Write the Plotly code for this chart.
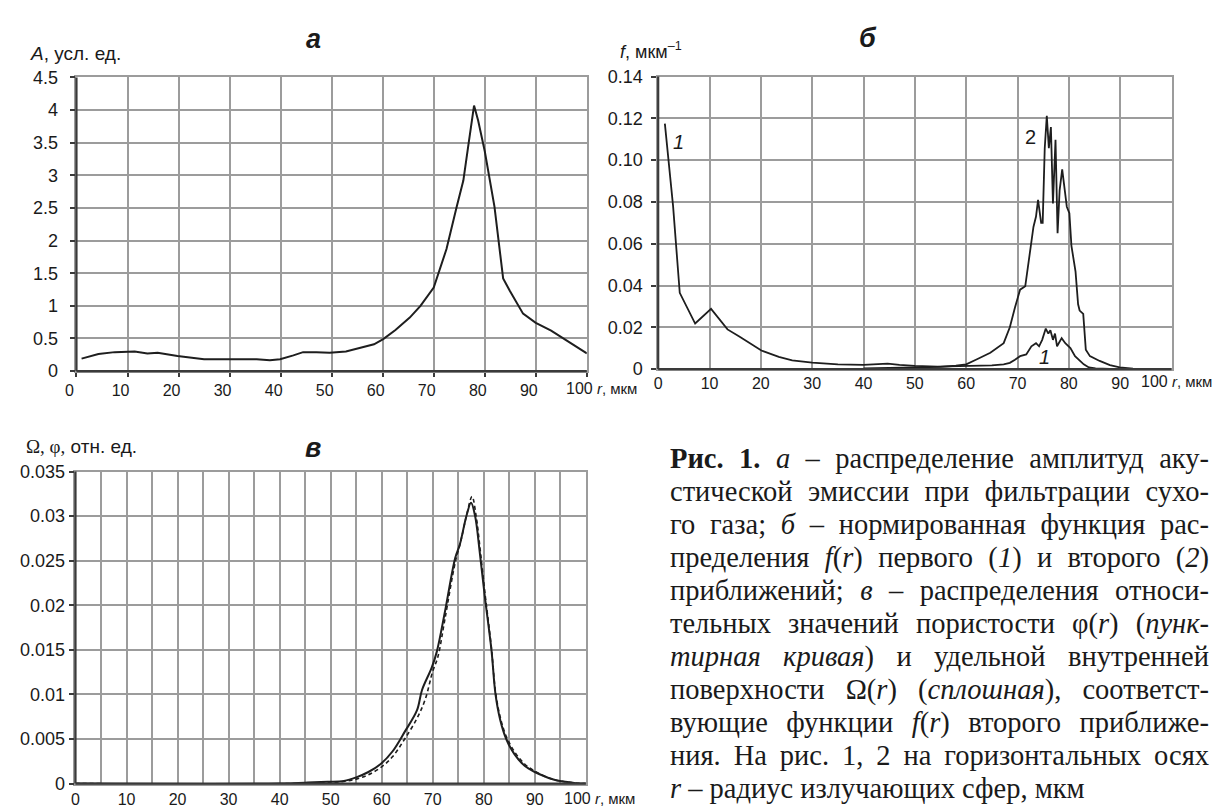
import plotly.graph_objects as go

W, H = 1222, 809

# ---------------- data ----------------
# panel a: amplitude distribution
r_a = [1, 4.3, 7.5, 10, 11.4, 13.9, 15.9, 19.8, 25, 30, 35.3, 37.9, 39.9, 42.5, 44.4, 47, 49.6,
       52.8, 56, 58.3, 60.1, 62.5, 65.3, 67.4, 70, 72.5, 74.5, 75.8, 76.8, 77.9, 78.7, 80, 81.9,
       83.6, 84.9, 87.5, 90, 93, 96, 100]
A_a = [0.19, 0.26, 0.29, 0.30, 0.30, 0.27, 0.28, 0.23, 0.18, 0.18, 0.18, 0.165, 0.18, 0.24, 0.29,
       0.29, 0.28, 0.30, 0.37, 0.41, 0.49, 0.63, 0.82, 1.0, 1.28, 1.87, 2.52, 2.92, 3.47, 4.07,
       3.84, 3.37, 2.52, 1.42, 1.23, 0.88, 0.74, 0.62, 0.47, 0.27]

# panel b: f(r), first (1) and second (2) approximations
r_b1 = [1.3, 2.9, 4.2, 7.2, 10.3, 13.5, 15.8, 20.1, 23.5, 26.1, 30, 35, 40, 44.7, 47, 50, 54.4,
        58, 62, 65, 67.3, 68.5, 69.5, 70.5, 71.7, 72.7, 73.6, 74.2, 74.8, 75.5, 76.0, 76.4, 76.9,
        77.3, 77.7, 78.6, 79.3, 80.3, 81.2, 81.9, 82.9, 83.9, 85.2, 88, 92, 100]
f_b1 = [0.1175, 0.078, 0.0365, 0.0218, 0.0288, 0.019, 0.0156, 0.0089, 0.0059, 0.0042, 0.0031,
        0.0023, 0.0020, 0.0026, 0.0020, 0.0015, 0.0012, 0.0013, 0.0016, 0.0018, 0.0023, 0.0030,
        0.0045, 0.0062, 0.0070, 0.0109, 0.0124, 0.0109, 0.0140, 0.0194, 0.0170, 0.0186, 0.0140,
        0.0170, 0.0109, 0.0148, 0.0124, 0.0101, 0.0062, 0.0047, 0.0023, 0.0008, 0.0003, 0.0001,
        0.0, 0.0]
r_b2 = [40, 50, 55, 58, 60, 62.1, 64.7, 67.3, 68.5, 69.5, 70.5, 71.5, 72.5, 73.1, 73.6, 74.0,
        74.6, 74.9, 75.3, 75.7, 76.1, 76.5, 76.9, 77.4, 77.8, 78.2, 78.7, 79.2, 79.6, 80.1, 80.5,
        81.0, 81.3, 81.8, 82.1, 82.8, 83.3, 84.1, 86, 88, 89.9, 92.5, 95, 100]
f_b2 = [0.0003, 0.0008, 0.0011, 0.0016, 0.0023, 0.0047, 0.0078, 0.0124, 0.020, 0.0295, 0.038,
        0.0396, 0.056, 0.068, 0.073, 0.081, 0.070, 0.070, 0.1057, 0.1212, 0.1057, 0.1158, 0.0793,
        0.1097, 0.065, 0.0855, 0.0956, 0.087, 0.0777, 0.0746, 0.059, 0.0513, 0.0466, 0.031, 0.028,
        0.0264, 0.0093, 0.0062, 0.0039, 0.0019, 0.0008, 0.0002, 0.0, 0.0]

# panel c: Omega(r) (solid) and phi(r) (dashed)
r_omega = [0, 40, 45, 49.4, 52.6, 55, 57.4, 59.8, 62.1, 64.5, 66.9, 67.9, 69.8, 70.8, 72.4, 74.4,
           75.3, 76.6, 77.5, 78.3, 79.2, 80.2, 81.5, 82.3, 83.2, 84.4, 86, 88, 90, 92, 94, 96, 98, 100]
omega = [0, 0, 0.0001, 0.0002, 0.0003, 0.0007, 0.0013, 0.0022, 0.0036, 0.0058, 0.0082, 0.0105,
         0.0130, 0.0148, 0.0193, 0.0253, 0.0268, 0.0300, 0.0315, 0.0300, 0.0260, 0.0210, 0.0150,
         0.0100, 0.0072, 0.0050, 0.0033, 0.0020, 0.0013, 0.0008, 0.0004, 0.0002, 0.00005, 0]
r_phi = [0, 42, 48, 52, 55, 57.4, 59.8, 62.1, 64.5, 66.9, 68.5, 70, 71, 72.4, 74.4, 75.5, 76.6,
         77.7, 78.5, 79.3, 80.2, 81.5, 82.3, 83.2, 84.4, 86, 88, 90, 92, 94, 96, 98, 100]
phi = [0, 0, 0.0001, 0.0002, 0.0005, 0.0010, 0.0018, 0.0030, 0.0050, 0.0073, 0.0094, 0.0126,
       0.0142, 0.0185, 0.0248, 0.0272, 0.0300, 0.0322, 0.0300, 0.0262, 0.0215, 0.0152, 0.0103,
       0.0075, 0.0053, 0.0036, 0.0022, 0.0014, 0.0008, 0.0004, 0.0002, 0.00005, 0]

# x tick labels: the last one ("100") is written together with the axis unit label
xticks = [0, 10, 20, 30, 40, 50, 60, 70, 80, 90, 100]
xticklabels = ["0", "10", "20", "30", "40", "50", "60", "70", "80", "90", ""]
x_last_label = "100"
x_unit = "<i>r</i>, мкм"
yticks_b = [0, 0.02, 0.04, 0.06, 0.08, 0.10, 0.12, 0.14]
yticklabels_b = ["0", "0.02", "0.04", "0.06", "0.08", "0.10", "0.12", "0.14"]

caption_lines = [
    "<b>Рис. 1.</b> <i>а</i> – распределение амплитуд аку-",
    "стической эмиссии при фильтрации сухо-",
    "го газа; <i>б</i> – нормированная функция рас-",
    "пределения <i>f</i>(<i>r</i>) первого (<i>1</i>) и второго (<i>2</i>)",
    "приближений; <i>в</i> – распределения относи-",
    "тельных значений пористости φ(<i>r</i>) (<i>пунк-</i>",
    "<i>тирная кривая</i>) и удельной внутренней",
    "поверхности Ω(<i>r</i>) (<i>сплошная</i>), соответст-",
    "вующие функции <i>f</i>(<i>r</i>) второго приближе-",
    "ния. На рис. 1, 2 на горизонтальных осях",
    "<i>r</i> – радиус излучающих сфер, мкм",
]

# ---------------- helpers ----------------
def PX(x):
    return x / W

def PY(y):
    return 1 - y / H

LINE = "#1e1e1e"
GRID = "#9c9c9c"
AXIS = "#3a3a3a"
TXT = "#1a1a1a"
SANS = "Liberation Sans, Arial, sans-serif"
NARROW = "Liberation Sans Narrow, Arial Narrow, Liberation Sans, sans-serif"
SERIF = "Liberation Serif, Times New Roman, serif"
CAP_LEFT, CAP_RIGHT, CAP_TOP, CAP_STEP, CAP_SIZE = 655, 1201, 452, 33.8, 28.5

fig = go.Figure()

fig.add_trace(go.Scatter(x=r_a, y=A_a, mode="lines", line=dict(color=LINE, width=2),
                         xaxis="x", yaxis="y", showlegend=False))
fig.add_trace(go.Scatter(x=r_b1, y=f_b1, mode="lines", line=dict(color=LINE, width=1.8),
                         xaxis="x2", yaxis="y2", showlegend=False))
fig.add_trace(go.Scatter(x=r_b2, y=f_b2, mode="lines", line=dict(color=LINE, width=1.8),
                         xaxis="x2", yaxis="y2", showlegend=False))
fig.add_trace(go.Scatter(x=r_phi, y=phi, mode="lines", line=dict(color=LINE, width=1.6, dash="4px,3px"),
                         line_shape="spline", xaxis="x3", yaxis="y3", showlegend=False))
fig.add_trace(go.Scatter(x=r_omega, y=omega, mode="lines", line=dict(color=LINE, width=2),
                         line_shape="spline", xaxis="x3", yaxis="y3", showlegend=False))

def xax(domain, shift=0, minor=False, ticks="", standoff=0):
    d = dict(domain=domain, range=[0, 100], tickvals=xticks, ticktext=xticklabels,
             showgrid=True, gridcolor=GRID,
             gridwidth=1.5, zeroline=False, showline=True, mirror=True, linecolor=GRID,
             linewidth=1.5, ticks=ticks, ticklen=4, tickcolor=AXIS, tickwidth=1.5,
             ticklabelstandoff=standoff,
             tickfont=dict(family=NARROW, size=16, color=TXT), fixedrange=True)
    if shift:
        d["ticklabelshift"] = shift
    if minor:
        d["minor"] = dict(dtick=5, tick0=0, showgrid=True, gridcolor=GRID, gridwidth=1.5)
    return d

def yax(domain, rng, font, standoff, dtick=None, tickvals=None, ticktext=None):
    d = dict(domain=domain, range=rng, showgrid=True, gridcolor=GRID, gridwidth=1.5,
             zeroline=False, showline=True, mirror=True, linecolor=GRID, linewidth=1.5,
             ticks="outside", ticklen=5, tickcolor=AXIS, tickwidth=1.5,
             ticklabelstandoff=standoff,
             tickfont=dict(family=font, size=18, color=TXT), fixedrange=True)
    if dtick is not None:
        d["dtick"] = dtick
        d["tick0"] = 0
    if tickvals is not None:
        d["tickvals"] = tickvals
        d["ticktext"] = ticktext
    return d

fig.update_layout(
    width=W, height=H, margin=dict(l=0, r=0, t=0, b=0),
    paper_bgcolor="white", plot_bgcolor="white",
    xaxis=dict(**xax([PX(58), PX(573)], shift=-7, ticks="outside"), anchor="y"),
    yaxis=dict(**yax([PY(362), PY(61)], [0, 4.5], SANS, 8, dtick=0.5), anchor="x"),
    xaxis2=dict(**xax([PX(645), PX(1163)], standoff=-1), anchor="y2"),
    yaxis2=dict(**yax([PY(360), PY(60)], [0, 0.14], NARROW, 5, tickvals=yticks_b,
                      ticktext=yticklabels_b), anchor="x2"),
    xaxis3=dict(**xax([PX(57), PX(572)], minor=True), anchor="y3"),
    yaxis3=dict(**yax([PY(785), PY(465)], [0, 0.035], SANS, 0, dtick=0.005), anchor="x3"),
)

# dark left/bottom axis lines
shapes = []
for xa, ya in [("x", "y"), ("x2", "y2"), ("x3", "y3")]:
    shapes.append(dict(type="line", xref=f"{xa} domain", yref=f"{ya} domain", x0=0, x1=0, y0=0, y1=1,
                       line=dict(color=AXIS, width=2.2)))
    shapes.append(dict(type="line", xref=f"{xa} domain", yref=f"{ya} domain", x0=0, x1=1, y0=0, y1=0,
                       line=dict(color=AXIS, width=2.2)))
fig.update_layout(shapes=shapes)

ann = []
def txt(x, y, text, size, family=SANS, xanchor="left", yanchor="middle", color=TXT, align="center"):
    ann.append(dict(x=PX(x), y=PY(y), xref="paper", yref="paper", text=text, showarrow=False,
                    xanchor=xanchor, yanchor=yanchor, align=align,
                    font=dict(family=family, size=size, color=color)))

# panel titles
txt(297, 22, "<b><i>а</i></b>", 27, xanchor="center")
txt(857, 21, "<b><i>б</i></b>", 27, xanchor="center")
txt(297, 441, "<b><i>в</i></b>", 27, xanchor="center")
# axis titles
txt(9, 36, "<i>A</i>, усл. ед.", 19)
txt(604, 33, "<i>f</i>, мкм<sup>–1</sup>", 18, family=NARROW)
txt(5, 439, "<span style='font-family:Liberation Serif'>Ω, φ,</span> отн. ед.", 19)
# last x tick label + unit label
for x, y in [(550, 380), (1130, 373), (548, 800)]:
    txt(x, y, f"<span style='font-size:16px'>{x_last_label}</span> {x_unit}", 15, family=NARROW)

# curve labels (panel b), positioned in data coordinates
for x, y, t in [(3.9, 0.1087, "<i>1</i>"), (72.6, 0.111, "2"), (75.3, 0.006, "<i>1</i>")]:
    ann.append(dict(x=x, y=y, xref="x2", yref="y2", text=t, showarrow=False,
                    font=dict(family=SANS, size=20, color=TXT)))

# caption lines (all but the last are justified in the browser, see post_script)
for i, line in enumerate(caption_lines):
    txt(CAP_LEFT, CAP_TOP + CAP_STEP * i, line, CAP_SIZE, family=SERIF, align="left")

fig.update_layout(annotations=ann)

# justify caption lines: set word-spacing so each line ends at CAP_RIGHT
post_script = """
var gd = document.getElementById('{plot_id}');
var RIGHT = %d;
function justifyCaption() {
  var box = gd.getBoundingClientRect();
  var nodes = gd.querySelectorAll('text.annotation-text');
  nodes.forEach(function (t) {
    var fam = t.style.fontFamily || '';
    if (fam.indexOf('Liberation Serif') < 0) return;
    var s = t.textContent;
    if (s.indexOf('радиус излучающих') >= 0) return;
    var n = (s.match(/ /g) || []).length;
    if (!n) return;
    t.setAttribute('text-anchor', 'start');
    for (var k = 0; k < 4; k++) {
      var r = t.getBoundingClientRect();
      var cur = parseFloat(t.style.wordSpacing) || 0;
      var ws = cur + (box.left + RIGHT - r.right) / n;
      t.style.wordSpacing = ws + 'px';
    }
  });
}
justifyCaption();
""" % CAP_RIGHT

fig.write_html("out.html", post_script=post_script)
